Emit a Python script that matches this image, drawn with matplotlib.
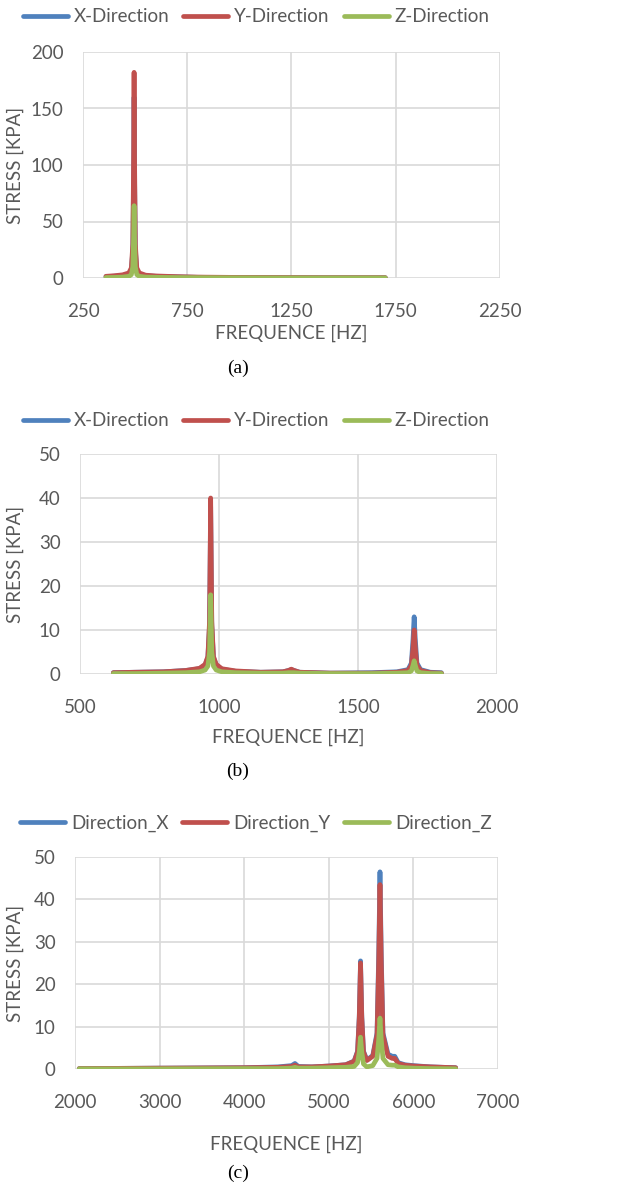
import numpy as np
import matplotlib
matplotlib.use("Agg")
import matplotlib.pyplot as plt

# colours (Office style)
c_x = "#4F81BD"
c_y = "#C0504D"
c_z = "#9BBB59"
grey = "#595959"

# ---- panel (a) ----
freq_a = [360, 400, 440, 470, 482, 489, 493, 495, 497, 501, 508, 520, 550, 600, 700, 800, 1000, 1200, 1400, 1600, 1700]
x_a = [1.2, 1.6, 2.2, 3.5, 7, 25, 95, 160, 95, 25, 7, 3.5, 2.0, 1.5, 1.0, 0.6, 0.4, 0.3, 0.2, 0.2, 0.2]
y_a = [1.5, 2.0, 2.8, 4.5, 9, 30, 110, 182, 110, 30, 9, 4.5, 2.5, 1.8, 1.2, 0.8, 0.5, 0.4, 0.3, 0.3, 0.3]
z_a = [0.4, 0.5, 0.8, 1.5, 3, 10, 38, 64, 38, 10, 3, 1.5, 0.8, 0.6, 0.4, 0.3, 0.2, 0.1, 0.1, 0.1, 0.1]

# ---- panel (b) ----
freq_b = [620, 700, 800, 880, 930, 950, 960, 966, 970, 974, 980, 990, 1010, 1060, 1150, 1230, 1250, 1260,
          1270, 1290, 1400, 1550, 1640, 1680, 1692, 1698, 1702, 1706, 1712, 1725, 1760, 1800]
x_b = [0.3, 0.4, 0.5, 0.8, 1.2, 2.0, 3.8, 11, 38, 11, 3.8, 2.0, 1.1, 0.6, 0.4, 0.5, 0.8, 1.0,
       0.8, 0.4, 0.2, 0.3, 0.5, 1.0, 2.5, 8, 13, 8, 2.5, 1.0, 0.4, 0.3]
y_b = [0.3, 0.4, 0.5, 0.8, 1.3, 2.2, 4.0, 12, 40, 12, 4.0, 2.2, 1.2, 0.7, 0.4, 0.5, 0.8, 1.1,
       0.8, 0.4, 0.2, 0.2, 0.4, 0.8, 2.0, 6, 10, 6, 2.0, 0.8, 0.3, 0.2]
z_b = [0.1, 0.1, 0.2, 0.3, 0.5, 0.9, 1.8, 5, 18, 5, 1.8, 0.9, 0.5, 0.3, 0.2, 0.2, 0.3, 0.3,
       0.3, 0.2, 0.1, 0.1, 0.2, 0.3, 0.7, 2, 3, 2, 0.7, 0.3, 0.1, 0.1]

# ---- panel (c) ----
freq_c = [2050, 3000, 4000, 4400, 4560, 4600, 4640, 4800, 5000, 5200, 5300, 5340, 5360, 5375, 5390, 5410,
          5450, 5520, 5570, 5590, 5605, 5620, 5640, 5700, 5750, 5780, 5820, 5900, 6000, 6200, 6500]
x_c = [0.1, 0.2, 0.3, 0.5, 0.8, 1.3, 0.6, 0.5, 0.7, 1.0, 1.9, 4.2, 12.5, 25.5, 12.5, 4.2,
       2.1, 3.2, 8.5, 27, 46.5, 27, 8.5, 3.5, 3.0, 3.0, 1.5, 1.0, 0.8, 0.5, 0.3]
y_c = [0.1, 0.2, 0.3, 0.4, 0.6, 0.9, 0.5, 0.5, 0.7, 1.0, 1.8, 4.0, 12, 25, 12, 4.0,
       2.0, 3.0, 8.0, 25, 43.5, 25, 8.0, 3.0, 2.5, 2.5, 1.3, 0.9, 0.7, 0.5, 0.3]
z_c = [0.05, 0.05, 0.1, 0.1, 0.2, 0.4, 0.2, 0.2, 0.3, 0.4, 0.6, 1.5, 4.0, 7.5, 4.0, 1.2,
       0.5, 0.8, 2.5, 7.0, 12, 7.0, 2.5, 1.0, 0.9, 0.9, 0.5, 0.3, 0.2, 0.1, 0.05]

labels_ab = ["X-Direction", "Y-Direction", "Z-Direction"]
labels_c = ["Direction_X", "Direction_Y", "Direction_Z"]

plt.rcParams['font.family'] = ['Lato', 'DejaVu Sans']
W, H = 624, 1184
fig = plt.figure(figsize=(W / 100, H / 100), dpi=100)


def px_axes(left, top, right, bottom):
    return fig.add_axes([left / W, 1 - bottom / H, (right - left) / W, (bottom - top) / H])


def panel(box, f, xs, ys, zs, labels, xlim, xticks, ylim, yticks, leg_y, cap, cap_y, xlpad):
    ax = px_axes(*box)
    for vals, col, lab in zip([xs, ys, zs], [c_x, c_y, c_z], labels):
        ax.plot(f, vals, color=col, lw=3.4, label=lab, solid_capstyle="round", solid_joinstyle="round")
    ax.set_xlim(*xlim)
    ax.set_ylim(*ylim)
    ax.set_xticks(xticks)
    ax.set_yticks(yticks)
    ax.grid(True, color="#D9D9D9", lw=1.2)
    ax.set_axisbelow(True)
    for s in ax.spines.values():
        s.set_visible(False)
    ax.tick_params(length=0, labelsize=13.5, colors=grey)
    ax.tick_params(axis="x", pad=18)
    ax.tick_params(axis="y", pad=14)
    ax.set_xlabel("FREQUENCE [HZ]", fontsize=13.5, color=grey, labelpad=xlpad)
    ax.set_ylabel("STRESS [KPA]", fontsize=13.5, color=grey)
    w = box[2] - box[0]
    ax.yaxis.set_label_coords((24 - box[0]) / w, 0.5)
    h, l = ax.get_legend_handles_labels()
    fig.legend(h, l, loc="center", bbox_to_anchor=(256 / W, 1 - leg_y / H), ncol=3, frameon=False,
               fontsize=13.5, handlelength=2.4, handletextpad=0.3, columnspacing=0.75,
               labelcolor=grey)
    fig.text(238 / W, 1 - cap_y / H, cap, ha="center", va="center", fontsize=14,
             family="Liberation Serif", color="black")
    return ax


panel((83, 52, 500, 278), freq_a, x_a, y_a, z_a, labels_ab, (250, 2250), [250, 750, 1250, 1750, 2250],
      (0, 200), [0, 50, 100, 150, 200], 17, "(a)", 368, 3)
panel((80, 454, 497, 674), freq_b, x_b, y_b, z_b, labels_ab, (500, 2000), [500, 1000, 1500, 2000],
      (0, 50), [0, 10, 20, 30, 40, 50], 421, "(b)", 771, 9)
panel((75, 857, 498, 1069), freq_c, x_c, y_c, z_c, labels_c, (2000, 7000), [2000, 3000, 4000, 5000, 6000, 7000],
      (0, 50), [0, 10, 20, 30, 40, 50], 823, "(c)", 1173, 18)

fig.savefig("out.png", dpi=100)
